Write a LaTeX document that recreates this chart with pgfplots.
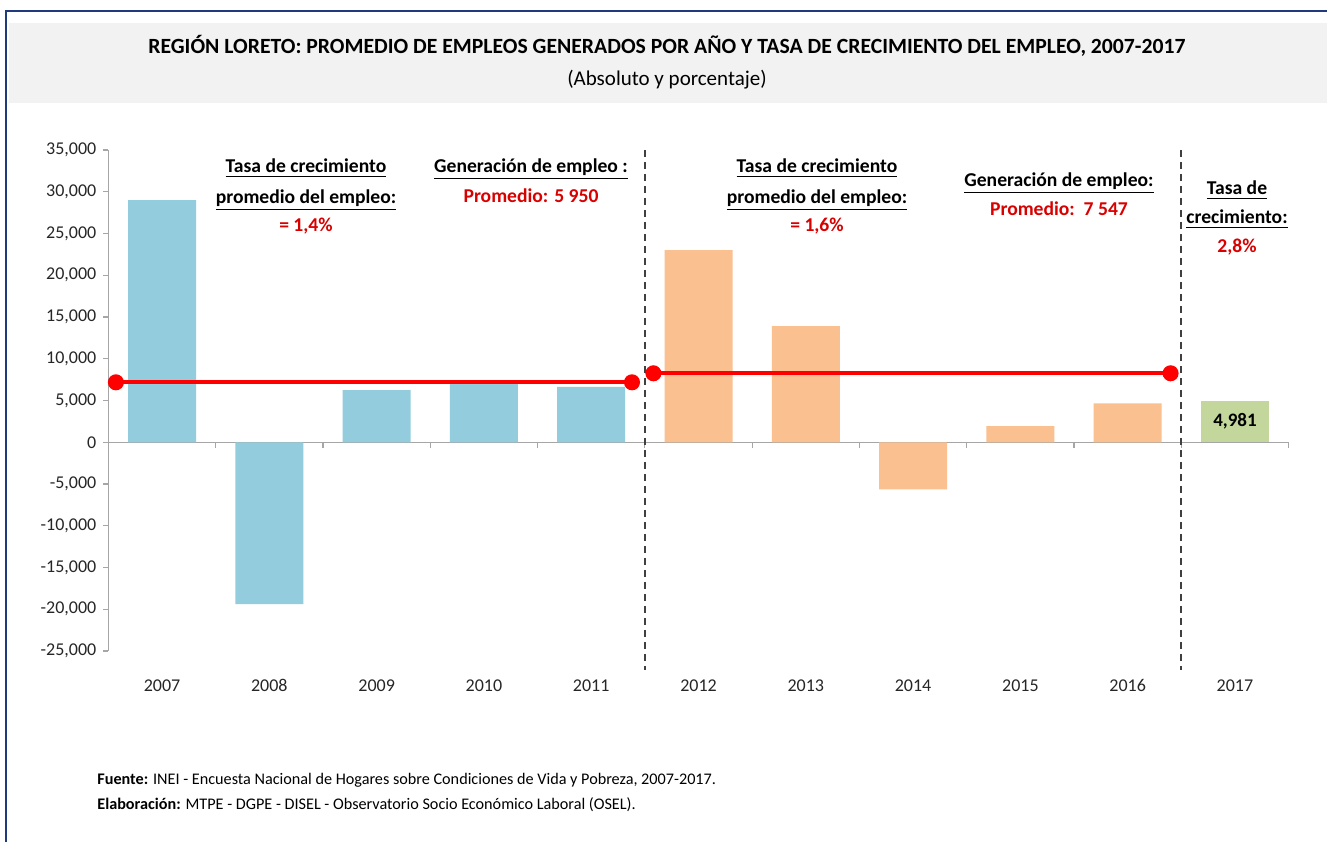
\documentclass[border=0pt]{standalone}
\usepackage{pgfplots}
\pgfplotsset{compat=1.18}
\usepackage{fontspec}
\setmainfont{Carlito}

\definecolor{barblue}{HTML}{93CDDD}
\definecolor{barorange}{HTML}{FAC090}
\definecolor{bargreen}{HTML}{C3D69B}
\definecolor{linered}{HTML}{FF0000}
\definecolor{textred}{HTML}{D90000}
\definecolor{axisgray}{HTML}{A6A6A6}
\definecolor{dashgray}{HTML}{404040}
\definecolor{labelgray}{HTML}{262626}
\definecolor{titlegray}{HTML}{F2F2F2}
\definecolor{framenavy}{HTML}{1F3A7D}

\newcommand{\annot}{\bfseries\fontsize{9.8}{11}\selectfont}

\begin{document}
\begin{tikzpicture}
\path[use as bounding box] (0pt,0pt) rectangle (663.5pt,421pt);
\fill[white] (0pt,0pt) rectangle (663.5pt,421pt);
% title band and frame
\fill[titlegray] (4.5pt,369.5pt) rectangle (663.5pt,409.5pt);
\draw[framenavy, line width=1.1pt] (3pt,0pt) -- (3pt,415.5pt) -- (663.5pt,415.5pt);

\node[anchor=base, font=\bfseries\fontsize{10.85}{12}\selectfont, text=black] at (333.5pt,394pt)
  {REGIÓN LORETO: PROMEDIO DE EMPLEOS GENERADOS POR AÑO Y TASA DE CRECIMIENTO DEL EMPLEO, 2007-2017};
\node[anchor=base, font=\fontsize{10.5}{12}\selectfont, text=black] at (333.5pt,378pt)
  {(Absoluto y porcentaje)};

\begin{axis}[
    at={(54.2pt,95.5pt)}, anchor=south west,
    scale only axis, width=590.1pt, height=250.5pt,
    xmin=-0.5, xmax=10.5, ymin=-25000, ymax=35000,
    axis y line*=left, axis x line*=bottom,
    x axis line style={draw=none},
    y axis line style={draw=axisgray, line width=0.6pt},
    xtick={0,1,2,3,4,5,6,7,8,9,10},
    xticklabels={2007,2008,2009,2010,2011,2012,2013,2014,2015,2016,2017},
    major x tick style={draw=none},
    ytick={-25000,-20000,-15000,-10000,-5000,0,5000,10000,15000,20000,25000,30000,35000},
    yticklabels={{-25,000},{-20,000},{-15,000},{-10,000},{-5,000},0,{5,000},{10,000},{15,000},{20,000},{25,000},{30,000},{35,000}},
    scaled y ticks=false,
    tick align=outside, major tick length=2.5pt,
    major y tick style={draw=axisgray, line width=0.6pt},
    ticklabel style={font=\fontsize{9}{10}\selectfont, text=labelgray},
    xticklabel style={text height=6pt, text depth=0pt, yshift=-8pt},
    clip=false,
]
% zero line and category separators
\draw[axisgray, line width=0.6pt] (axis cs:-0.5,0) -- (axis cs:10.5,0);
\pgfplotsinvokeforeach{-0.5,0.5,...,10.5}{
  \draw[axisgray, line width=0.6pt] (axis cs:#1,0) -- ++(0pt,-3pt);
}

% 2007-2011
\addplot[ybar, bar width=34pt, bar shift=0pt, fill=barblue, draw=none]
  coordinates {(0,29000) (1,-19400) (2,6230) (3,7000) (4,6620)};
% 2012-2016
\addplot[ybar, bar width=34pt, bar shift=0pt, fill=barorange, draw=none]
  coordinates {(5,23000) (6,13900) (7,-5630) (8,1920) (9,4670)};
% 2017
\addplot[ybar, bar width=34pt, bar shift=0pt, fill=bargreen, draw=none]
  coordinates {(10,4981)};

% average lines
\addplot[linered, line width=2pt, mark=*, mark size=3pt, mark options={fill=linered, draw=linered}]
  coordinates {(-0.43,7180) (4.38,7180)};
\addplot[linered, line width=2pt, mark=*, mark size=3pt, mark options={fill=linered, draw=linered}]
  coordinates {(4.58,8260) (9.40,8260)};

% period separators
\draw[dashgray, line width=1pt, dash pattern=on 3.5pt off 2.5pt] (axis cs:4.5,35000) -- (axis cs:4.5,-27300);
\draw[dashgray, line width=1pt, dash pattern=on 3.5pt off 2.5pt] (axis cs:9.5,35000) -- (axis cs:9.5,-27300);

\node[font=\bfseries\fontsize{9.5}{10}\selectfont, text=black] at (axis cs:10,2490) {4,981};
\end{axis}

% annotations
\node[anchor=base, font=\annot] at (153pt,334.5pt) {\underline{Tasa de crecimiento}};
\node[anchor=base, font=\annot] at (153pt,319pt) {\underline{promedio del empleo:}};
\node[anchor=base, font=\annot, text=textred] at (153pt,305pt) {= 1,4\%};

\node[anchor=base, font=\annot] at (265.5pt,334.5pt) {\underline{Generación de empleo :}};
\node[anchor=base, font=\annot, text=textred] at (265.5pt,319.5pt) {Promedio: 5 950};

\node[anchor=base, font=\annot] at (408.5pt,334.5pt) {\underline{Tasa de crecimiento}};
\node[anchor=base, font=\annot] at (408.5pt,319pt) {\underline{promedio del empleo:}};
\node[anchor=base, font=\annot, text=textred] at (408.5pt,305pt) {= 1,6\%};

\node[anchor=base, font=\annot] at (529.5pt,327.5pt) {\underline{Generación de empleo:}};
\node[anchor=base, font=\annot, text=textred] at (529.5pt,313pt) {Promedio:\ \ 7 547};

\node[anchor=base, font=\annot] at (618.5pt,323.5pt) {\underline{Tasa de}};
\node[anchor=base, font=\annot] at (618.5pt,309pt) {\underline{crecimiento:}};
\node[anchor=base, font=\annot, text=textred] at (618.5pt,294.5pt) {2,8\%};

% source notes
\node[anchor=base west, inner sep=0pt, font=\fontsize{8.1}{9}\selectfont] at (48.5pt,29pt)
  {\textbf{Fuente:} INEI - Encuesta Nacional de Hogares sobre Condiciones de Vida y Pobreza, 2007-2017.};
\node[anchor=base west, inner sep=0pt, font=\fontsize{8.1}{9}\selectfont] at (48.5pt,16.5pt)
  {\textbf{Elaboración:} MTPE - DGPE - DISEL - Observatorio Socio Económico Laboral (OSEL).};
\end{tikzpicture}
\end{document}
